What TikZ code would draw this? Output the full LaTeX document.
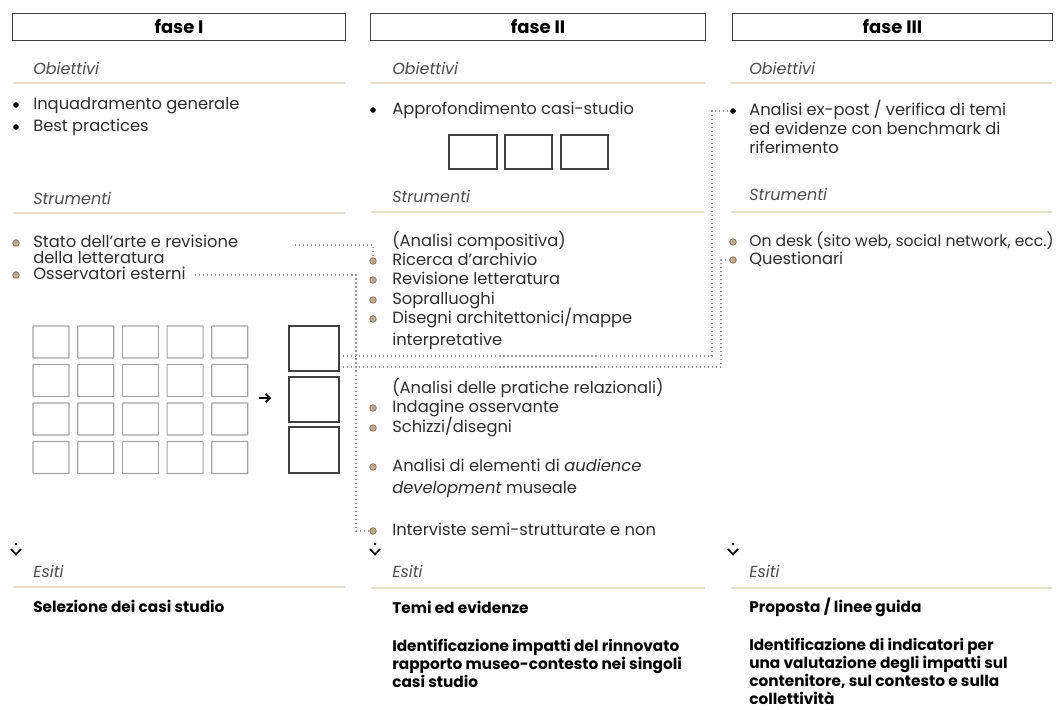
\documentclass[tikz,border=0pt]{standalone}
\usepackage{fontspec}
\setmainfont{Poppins}
\usetikzlibrary{arrows.meta}
\definecolor{ink}{RGB}{45,45,45}
\definecolor{beige}{RGB}{232,222,206}
\definecolor{tanfill}{RGB}{190,170,140}
\definecolor{tanline}{RGB}{130,110,85}
\definecolor{dotgray}{RGB}{150,150,150}
\definecolor{sqgray}{RGB}{165,165,165}
\tikzset{
  head/.style={draw=black!75,line width=0.7pt,minimum height=0.675cm,inner sep=0pt,font=\bfseries\fontsize{12.8}{14}\selectfont},
  item/.style={anchor=west,inner sep=0pt,text height=1.5ex,text depth=.25ex,text=ink,font=\fontsize{11.6}{13}\selectfont},
  lab/.style={item,text=ink!85,font=\itshape\fontsize{11.4}{13}\selectfont},
  esito/.style={item,text=black,font=\bfseries\fontsize{10.9}{13}\selectfont},
  rule/.style={beige,line width=0.8pt},
  dotline/.style={dotgray,line width=0.85pt,dash pattern=on 0.85pt off 2pt},
  bk/.style={circle,fill=black,inner sep=0pt,minimum size=0.14cm},
  tb/.style={circle,fill=tanfill,draw=tanline,line width=0.5pt,inner sep=0pt,minimum size=0.165cm},
  gridsq/.style={draw=sqgray,line width=0.8pt,rounded corners=0.3pt},
  bigsq/.style={draw=black!75,line width=0.9pt}
}
\begin{document}
\begin{tikzpicture}[x=0.025cm,y=-0.025cm]
\useasboundingbox (0,0) rectangle (1062,709);

% fase I
\draw (179,26.5) node[head,minimum width=8.3cm] (faseI) {fase I};
\draw (33,70) node[lab] (obI) {Obiettivi};
\draw [rule] (13,83)--(345,83);
\draw (16,105) node[bk] (bI1) {};
\draw (33,105) node[item] (obI1) {Inquadramento generale};
\draw (16,127) node[bk] (bI2) {};
\draw (33,127) node[item] (obI2) {Best practices};
\draw (33,200) node[lab] (stI) {Strumenti};
\draw [rule] (13,213)--(345,213);
\draw (16,243) node[tb] (bI3) {};
\draw (33,243) node[item] (stI1) {Stato dell’arte e revisione};
\draw (33,259) node[item] (stI1b) {della letteratura};
\draw (16,275) node[tb] (bI4) {};
\draw (33,275) node[item] (stI2) {Osservatori esterni};
\foreach \i in {0,...,4}
  \foreach \j in {0,...,3}
    \draw [gridsq] (33+44.7*\i,326+38.5*\j) rectangle +(36,32);
\coordinate (arrS) at (259,398);
\coordinate (arrE) at (271,398);
\draw [line width=1.3pt,-{Straight Barb[length=3pt,width=6pt]}] (arrS)--(arrE);
\draw [bigsq] (289,326) rectangle (339,371);
\draw [bigsq] (289,377) rectangle (339,422);
\draw [bigsq] (289,427) rectangle (339,473);
\draw (33,573) node[lab] (esI) {Esiti};
\draw [rule] (13,587)--(345,587);
\draw (33,608) node[esito] (esI1) {Selezione dei casi studio};

% fase II
\draw (538,26.5) node[head,minimum width=8.35cm] (faseII) {fase II};
\draw (392,70) node[lab] (obII) {Obiettivi};
\draw [rule] (371,83)--(705,83);
\draw (373,110) node[bk] (bII1) {};
\draw (392,110) node[item] (obII1) {Approfondimento casi-studio};
\draw [bigsq] (449,135) rectangle (497,169);
\draw [bigsq] (505,135) rectangle (552,169);
\draw [bigsq] (561,135) rectangle (608,169);
\draw (392,198) node[lab] (stII) {Strumenti};
\draw [rule] (371,212)--(705,212);
\draw (392,242) node[item] (stII0) {(Analisi compositiva)};
\draw (373,261) node[tb] (bII2) {};
\draw (392,261) node[item] (stII1) {Ricerca d’archivio};
\draw (373,280) node[tb] (bII3) {};
\draw (392,280) node[item] (stII2) {Revisione letteratura};
\draw (373,300) node[tb] (bII4) {};
\draw (392,300) node[item] (stII3) {Sopralluoghi};
\draw (373,319) node[tb] (bII5) {};
\draw (392,319) node[item] (stII4) {Disegni architettonici/mappe};
\draw (392,341) node[item] (stII4b) {interpretative};
\draw (392,389) node[item] (stII5) {(Analisi delle pratiche relazionali)};
\draw (373,408) node[tb] (bII6) {};
\draw (392,408) node[item] (stII6) {Indagine osservante};
\draw (373,428) node[tb] (bII7) {};
\draw (392,428) node[item] (stII7) {Schizzi/disegni};
\draw (373,467) node[tb] (bII8) {};
\draw (392,467) node[item] (stII8) {Analisi di elementi di \textit{audience}};
\draw (392,489) node[item] (stII8b) {\textit{development} museale};
\draw (373,531) node[tb] (bII9) {};
\draw (392,531) node[item] (stII9) {Interviste semi-strutturate e non};
\draw (392,573) node[lab] (esII) {Esiti};
\draw [rule] (371,588)--(705,588);
\draw (392,609) node[esito] (esII1) {Temi ed evidenze};
\draw (392,647) node[esito] (esII2) {Identificazione impatti del rinnovato};
\draw (392,665) node[esito] (esII2b) {rapporto museo-contesto nei singoli};
\draw (392,683) node[esito] (esII2c) {casi studio};

% fase III
\draw (892.5,26.5) node[head,minimum width=7.975cm] (faseIII) {fase III};
\draw (749,70) node[lab] (obIII) {Obiettivi};
\draw [rule] (731,83)--(1052,83);
\draw (733,111) node[bk] (bIII1) {};
\draw (749,111) node[item] (obIII1) {Analisi ex-post / verifica di temi};
\draw (749,130) node[item] (obIII1b) {ed evidenze con benchmark di};
\draw (749,149) node[item] (obIII1c) {riferimento};
\draw (749,196) node[lab] (stIII) {Strumenti};
\draw [rule] (731,212)--(1052,212);
\draw (733,242) node[tb] (bIII2) {};
\draw (749,242) node[item,font=\fontsize{11.1}{13}\selectfont] (stIII1) {On desk (sito web, social network, ecc.)};
\draw (733,260) node[tb] (bIII3) {};
\draw (749,260) node[item] (stIII2) {Questionari};
\draw (749,573) node[lab] (esIII) {Esiti};
\draw [rule] (731,588)--(1052,588);
\draw (749,608) node[esito] (esIII1) {Proposta / linee guida};
\draw (749,646) node[esito] (esIII2) {Identificazione di indicatori per};
\draw (749,664) node[esito] (esIII2b) {una valutazione degli impatti sul};
\draw (749,682) node[esito] (esIII2c) {contenitore, sul contesto e sulla};
\draw (749,700) node[esito] (esIII2d) {collettività};

% esiti markers
\foreach \x in {16,375,733} {
  \fill (\x,544) circle (1.4);
  \draw [line width=1.2pt] (\x-5,549)--(\x,554.5)--(\x+5,549);
}

% dotted links
\coordinate (cA) at (295,245);
\draw [dotline] (cA) -| (bII2.north);
\coordinate (cB) at (195,275);
\coordinate (kB) at (356,275);
\draw [dotline] (cB)--(kB) |- (bII9.west);
\coordinate (cC) at (343,356);
\coordinate (kC) at (712,356);
\draw [dotline] (cC)--(kC) |- (bIII1.west);
\coordinate (cD) at (343,367);
\coordinate (kD) at (721,367);
\draw [dotline] (cD)--(kD) |- (bIII3.west);
\end{tikzpicture}
\end{document}
